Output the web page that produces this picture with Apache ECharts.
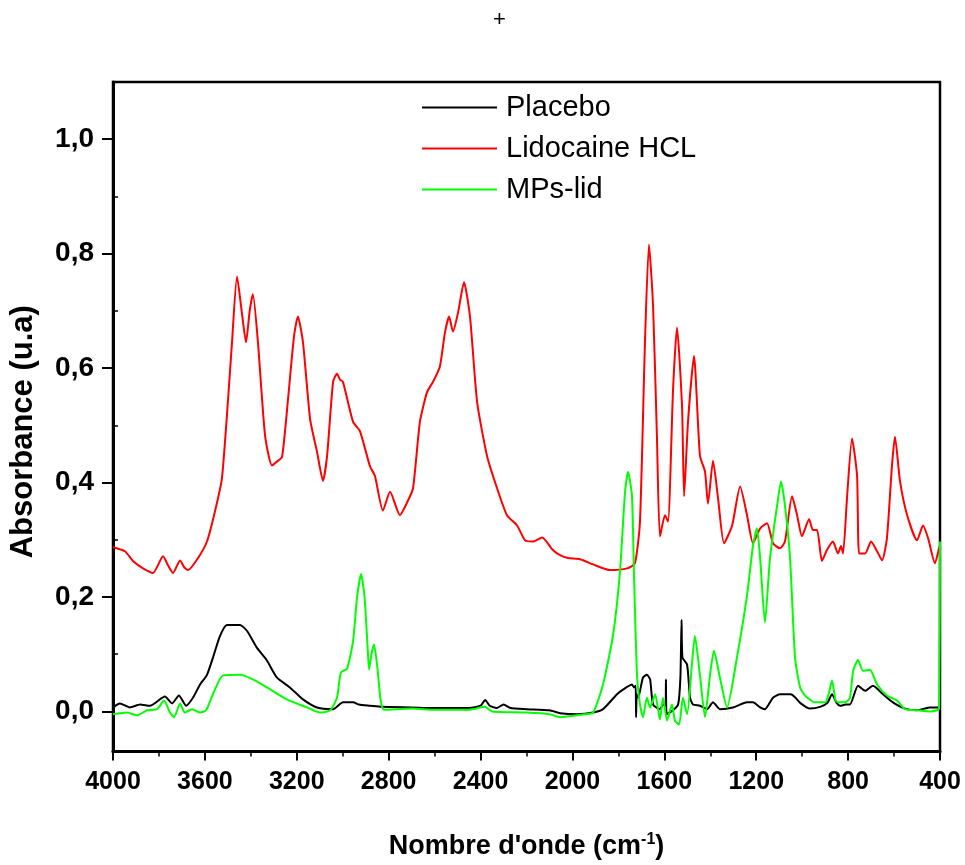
<!DOCTYPE html>
<html>
<head>
<meta charset="utf-8">
<script src="https://cdn.jsdelivr.net/npm/echarts@6/dist/echarts.min.js"></script>
<style>
  html, body { margin: 0; padding: 0; background: #fff; }
  #chart { width: 965px; height: 865px; }
</style>
</head>
<body>
<div id="chart"></div>
<script>
// wavenumbers (cm-1) and absorbance
const placeboWn = [4000, 3970, 3926, 3882, 3839, 3774, 3743, 3713, 3682, 3652, 3621, 3591, 3565, 3534, 3504, 3447, 3417, 3373, 3330, 3286, 3230, 3173, 3112, 3042, 2999, 2955, 2929, 2880, 2830, 2700, 2600, 2450, 2400, 2380, 2360, 2330, 2300, 2270, 2200, 2100, 2054, 1980, 1910, 1867, 1806, 1780, 1741, 1732, 1725, 1723, 1720, 1714, 1693, 1676, 1662, 1649, 1619, 1606, 1595, 1593, 1590, 1562, 1540, 1530, 1525, 1521, 1501, 1488, 1475, 1445, 1414, 1388, 1358, 1301, 1240, 1214, 1183, 1162, 1127, 1096, 1050, 1031, 1009, 966, 922, 890, 870, 850, 835, 810, 792, 757, 726, 692, 648, 605, 552, 500, 443, 400];
const placeboY = [0.007, 0.014, 0.007, 0.012, 0.010, 0.026, 0.014, 0.028, 0.010, 0.024, 0.047, 0.064, 0.094, 0.132, 0.151, 0.151, 0.141, 0.111, 0.089, 0.059, 0.042, 0.021, 0.007, 0.004, 0.016, 0.016, 0.012, 0.010, 0.008, 0.007, 0.006, 0.006, 0.010, 0.020, 0.010, 0.006, 0.012, 0.006, 0.004, 0.002, -0.003, -0.005, -0.002, 0.004, 0.030, 0.038, 0.047, 0.042, 0.045, -0.010, 0.030, 0.024, 0.059, 0.064, 0.056, 0.012, 0.004, 0.012, 0.010, 0.056, -0.005, 0.002, 0.012, 0.060, 0.160, 0.094, 0.082, 0.024, 0.012, 0.010, 0.004, 0.016, 0.004, 0.007, 0.016, 0.016, 0.007, 0.004, 0.024, 0.030, 0.030, 0.025, 0.015, 0.005, 0.008, 0.015, 0.030, 0.015, 0.010, 0.012, 0.012, 0.045, 0.036, 0.045, 0.030, 0.016, 0.005, 0.002, 0.007, 0.007];

const lidoWn = [4000, 3948, 3913, 3869, 3826, 3782, 3760, 3739, 3708, 3690, 3673, 3630, 3591, 3556, 3526, 3499, 3482, 3460, 3440, 3421, 3405, 3391, 3369, 3338, 3308, 3285, 3264, 3238, 3212, 3195, 3173, 3142, 3112, 3086, 3068, 3042, 3025, 3012, 2999, 2955, 2925, 2881, 2860, 2825, 2794, 2751, 2720, 2694, 2664, 2633, 2607, 2577, 2555, 2537, 2520, 2498, 2472, 2446, 2415, 2372, 2328, 2285, 2241, 2206, 2172, 2132, 2085, 2054, 2019, 1967, 1910, 1836, 1762, 1728, 1706, 1684, 1667, 1649, 1632, 1619, 1597, 1584, 1562, 1545, 1523, 1514, 1497, 1471, 1445, 1423, 1410, 1388, 1366, 1340, 1305, 1270, 1240, 1214, 1183, 1153, 1127, 1096, 1075, 1044, 1022, 1001, 970, 953, 935, 914, 892, 866, 844, 831, 822, 805, 783, 761, 752, 726, 700, 674, 652, 631, 609, 596, 574, 543, 500, 474, 452, 422, 404, 400];
const lidoY = [0.287, 0.280, 0.263, 0.250, 0.242, 0.271, 0.255, 0.242, 0.264, 0.252, 0.247, 0.268, 0.297, 0.350, 0.407, 0.546, 0.645, 0.760, 0.700, 0.645, 0.700, 0.729, 0.645, 0.482, 0.430, 0.437, 0.445, 0.546, 0.656, 0.690, 0.645, 0.511, 0.454, 0.403, 0.447, 0.576, 0.590, 0.580, 0.576, 0.506, 0.490, 0.428, 0.412, 0.351, 0.384, 0.343, 0.365, 0.390, 0.506, 0.558, 0.576, 0.603, 0.662, 0.690, 0.664, 0.697, 0.750, 0.690, 0.541, 0.447, 0.390, 0.343, 0.325, 0.299, 0.297, 0.304, 0.282, 0.273, 0.268, 0.266, 0.257, 0.247, 0.250, 0.259, 0.332, 0.650, 0.816, 0.708, 0.477, 0.306, 0.343, 0.332, 0.563, 0.671, 0.534, 0.376, 0.506, 0.621, 0.447, 0.419, 0.363, 0.438, 0.372, 0.294, 0.325, 0.393, 0.343, 0.294, 0.320, 0.329, 0.294, 0.285, 0.297, 0.376, 0.343, 0.306, 0.336, 0.317, 0.317, 0.263, 0.282, 0.297, 0.276, 0.289, 0.276, 0.372, 0.477, 0.412, 0.276, 0.276, 0.297, 0.280, 0.264, 0.303, 0.430, 0.480, 0.402, 0.343, 0.299, 0.325, 0.303, 0.259, 0.285, 0.290];

const mpsWn = [4000, 3939, 3895, 3852, 3808, 3778, 3752, 3734, 3708, 3687, 3656, 3621, 3595, 3565, 3521, 3447, 3391, 3330, 3243, 3155, 3099, 3055, 3025, 3008, 2981, 2955, 2938, 2920, 2905, 2890, 2885, 2875, 2864, 2850, 2835, 2820, 2700, 2600, 2450, 2380, 2350, 2200, 2100, 2054, 1950, 1910, 1867, 1823, 1793, 1771, 1758, 1741, 1732, 1719, 1706, 1693, 1676, 1662, 1640, 1619, 1606, 1588, 1567, 1554, 1536, 1519, 1501, 1480, 1467, 1445, 1423, 1401, 1384, 1358, 1327, 1284, 1240, 1214, 1197, 1183, 1162, 1140, 1109, 1092, 1075, 1053, 1031, 1009, 988, 944, 900, 885, 870, 855, 844, 813, 792, 778, 757, 735, 705, 674, 631, 587, 552, 500, 443, 413, 404, 400];
const mpsY = [-0.005, -0.002, -0.007, 0.002, 0.004, 0.019, -0.002, -0.010, 0.014, -0.002, 0.004, -0.002, 0.002, 0.030, 0.063, 0.064, 0.056, 0.042, 0.021, 0.007, -0.002, 0.002, 0.024, 0.068, 0.075, 0.123, 0.198, 0.240, 0.200, 0.100, 0.073, 0.100, 0.117, 0.080, 0.020, 0.003, 0.005, 0.003, 0.003, 0.008, 0.000, -0.002, -0.005, -0.010, -0.005, -0.002, 0.047, 0.134, 0.245, 0.384, 0.419, 0.377, 0.238, 0.064, 0.012, -0.010, 0.024, 0.007, 0.030, -0.014, 0.024, -0.016, 0.012, -0.016, -0.023, 0.024, -0.005, 0.082, 0.132, 0.064, -0.010, 0.064, 0.106, 0.059, 0.007, 0.094, 0.203, 0.290, 0.320, 0.268, 0.155, 0.268, 0.360, 0.402, 0.360, 0.270, 0.094, 0.042, 0.028, 0.016, 0.016, 0.030, 0.054, 0.020, 0.016, 0.016, 0.024, 0.071, 0.090, 0.071, 0.073, 0.047, 0.028, 0.019, 0.004, 0.002, 0.000, 0.002, 0.005, 0.297];

const yMajor = [0, 0.2, 0.4, 0.6, 0.8, 1.0];
const yMinor = [0.1, 0.3, 0.5, 0.7, 0.9];

const pairs = (xs, ys) => xs.map((x, i) => [x, ys[i]]);
const font = 'Liberation Sans, Arial, sans-serif';

const chart = echarts.init(document.getElementById('chart'));

const lineSeries = (name, color, xs, ys) => ({
  name: name,
  type: 'line',
  data: pairs(xs, ys),
  symbol: 'none',
  showSymbol: false,
  smooth: 0.2,
  lineStyle: { color: color, width: 2 },
  itemStyle: { color: color },
  z: 3
});

chart.setOption({
  animation: false,
  backgroundColor: '#fff',
  graphic: [{
    type: 'text',
    left: 493,
    top: 9,
    style: { text: '+', font: '22px ' + font, fill: '#000' }
  }],
  legend: {
    orient: 'vertical',
    left: 422,
    top: 93,
    padding: 0,
    icon: 'rect',
    itemWidth: 75,
    itemHeight: 2,
    itemGap: 12,
    textStyle: { fontFamily: font, fontSize: 29, color: '#000', padding: [0, 0, 0, 4] },
    data: ['Placebo', 'Lidocaine HCL', 'MPs-lid']
  },
  grid: {
    left: 113, right: 25, top: 82, bottom: 110,
    show: true, borderColor: '#000', borderWidth: 2.5, backgroundColor: 'transparent'
  },
  xAxis: {
    type: 'value',
    inverse: true,
    min: 400, max: 4000, interval: 400,
    name: "Nombre d'onde (cm{sup|-1})",
    nameLocation: 'middle',
    nameGap: 80,
    nameTextStyle: {
      fontFamily: font, fontSize: 27, fontWeight: 'bold', color: '#000',
      rich: { sup: { fontFamily: font, fontSize: 16, fontWeight: 'bold', color: '#000', verticalAlign: 'top', padding: [0, 0, 14, 0] } }
    },
    axisLine: { onZero: false, lineStyle: { color: '#000', width: 3 } },
    axisTick: { length: 9, lineStyle: { color: '#000', width: 2 } },
    minorTick: { show: true, splitNumber: 2, length: 5, lineStyle: { color: '#000', width: 1.5 } },
    axisLabel: {
      fontFamily: font, fontSize: 25, fontWeight: 'bold', color: '#000', margin: 18,
      formatter: v => String(v)
    },
    splitLine: { show: false }
  },
  yAxis: [{
    type: 'value',
    min: -0.07, max: 1.1,
    name: 'Absorbance (u.a)',
    nameLocation: 'middle',
    nameGap: 74,
    nameTextStyle: { fontFamily: font, fontSize: 31, fontWeight: 'bold', color: '#000', padding: [0, 30, 0, 0] },
    axisLine: { show: true, onZero: false, lineStyle: { color: '#000', width: 3 } },
    axisTick: { show: true, length: 11, customValues: yMajor, lineStyle: { color: '#000', width: 2 } },
    axisLabel: {
      customValues: yMajor,
      fontFamily: font, fontSize: 28, fontWeight: 'bold', color: '#000', margin: 19,
      formatter: v => v.toFixed(1).replace('.', ',')
    },
    splitLine: { show: false }
  }, {
    type: 'value',
    position: 'left',
    min: -0.07, max: 1.1,
    axisLine: { show: false },
    axisTick: { show: true, inside: true, length: 5, customValues: yMinor, lineStyle: { color: '#000', width: 1.5 } },
    axisLabel: { show: false },
    splitLine: { show: false }
  }],
  series: [
    lineSeries('Placebo', '#000000', placeboWn, placeboY),
    lineSeries('Lidocaine HCL', '#ff0000', lidoWn, lidoY),
    lineSeries('MPs-lid', '#00ff00', mpsWn, mpsY)
  ]
});
</script>
</body>
</html>
